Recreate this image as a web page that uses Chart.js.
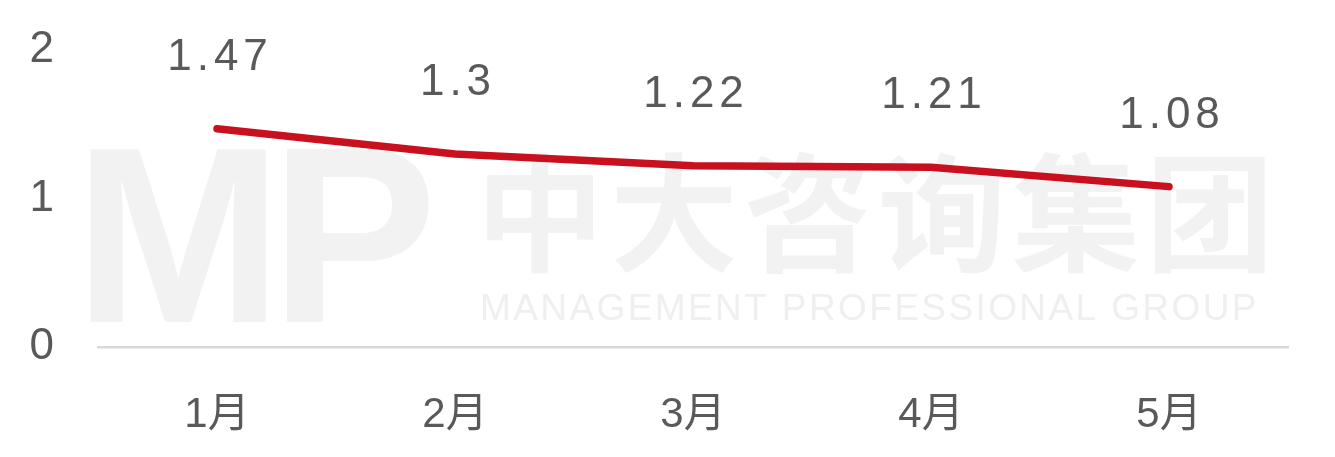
<!DOCTYPE html>
<html>
<head>
<meta charset="utf-8">
<script src="https://cdn.jsdelivr.net/npm/chart.js@4.4.1/dist/chart.umd.min.js"></script>
<style>
  html, body { margin: 0; padding: 0; background: #fff; }
  #wrap { width: 1335px; height: 457px; position: relative; }
</style>
</head>
<body>
<div id="wrap"><canvas id="chart"></canvas></div>
<script>
// === DATA ===
var MONTHS   = ['1月', '2月', '3月', '4月', '5月'];
var VALUES   = [1.47, 1.3, 1.22, 1.21, 1.08];
var Y_TICKS  = [0, 1, 2];

var FONT_FAMILY = '"Liberation Sans", Arial, "Noto Sans CJK SC", sans-serif';
var TEXT_COLOR  = '#595959';
var LINE_COLOR  = '#C8101E';

// faint watermark behind the line
var watermark = {
  id: 'watermark',
  beforeDatasetsDraw: function (chart) {
    var c = chart.ctx;
    c.save();
    c.fillStyle = '#f2f2f2';
    c.textBaseline = 'alphabetic';
    c.textAlign = 'left';
    c.font = 'bold 250px "Liberation Sans", Arial, sans-serif';
    c.letterSpacing = '-12px';
    c.fillText('MP', 74, 322);
    c.letterSpacing = '6px';
    c.font = 'bold 128px "Noto Sans CJK SC", sans-serif';
    c.fillText('中大咨询集团', 476, 262);
    c.letterSpacing = '2.4px';
    c.font = '37px "Liberation Sans", Arial, sans-serif';
    c.fillStyle = '#efefef';
    c.fillText('MANAGEMENT PROFESSIONAL GROUP', 480, 320);
    c.restore();
  }
};

// value labels above each point
var valueLabels = {
  id: 'valueLabels',
  afterDatasetsDraw: function (chart) {
    var c = chart.ctx;
    var meta = chart.getDatasetMeta(0);
    c.save();
    c.fillStyle = TEXT_COLOR;
    c.font = '44px ' + FONT_FAMILY;
    c.textAlign = 'center';
    c.textBaseline = 'middle';
    c.letterSpacing = '5px';
    meta.data.forEach(function (pt, i) {
      c.fillText(String(VALUES[i]), pt.x + 3, pt.y - 71);
    });
    c.restore();
  }
};

var ctx = document.getElementById('chart').getContext('2d');
new Chart(ctx, {
  type: 'line',
  data: {
    labels: MONTHS,
    datasets: [{
      data:            VALUES,
      borderColor:     LINE_COLOR,
      borderWidth:     7.5,
      borderCapStyle:  'round',
      borderJoinStyle: 'round',
      pointRadius:     0,
      tension:         0,
      fill:            false
    }]
  },
  options: {
    responsive: true,
    maintainAspectRatio: false,
    animation: false,
    layout: { autoPadding: false, padding: { top: 50, right: 47, bottom: 0, left: 0 } },
    plugins: {
      legend:  { display: false },
      tooltip: { enabled: false }
    },
    scales: {
      x: {
        offset: true,
        grid:   { display: false },
        border: { display: true, color: '#d9d9d9', width: 2.5 },
        ticks:  { color: TEXT_COLOR, padding: 35, font: { family: FONT_FAMILY, size: 42 } },
        afterFit: function (s) { s.height = 110; s.paddingLeft = 0; s.paddingRight = 0; }
      },
      y: {
        min: 0,
        max: 2,
        afterBuildTicks: function (s) { s.ticks = Y_TICKS.map(function (v) { return { value: v }; }); },
        grid:   { display: false },
        border: { display: false },
        ticks:  { color: TEXT_COLOR, padding: 36, font: { family: FONT_FAMILY, size: 44, lineHeight: 1 } },
        afterFit: function (s) { s.width = 98; s.paddingTop = 0; s.paddingBottom = 0; }
      }
    }
  },
  plugins: [watermark, valueLabels]
});
</script>
</body>
</html>
